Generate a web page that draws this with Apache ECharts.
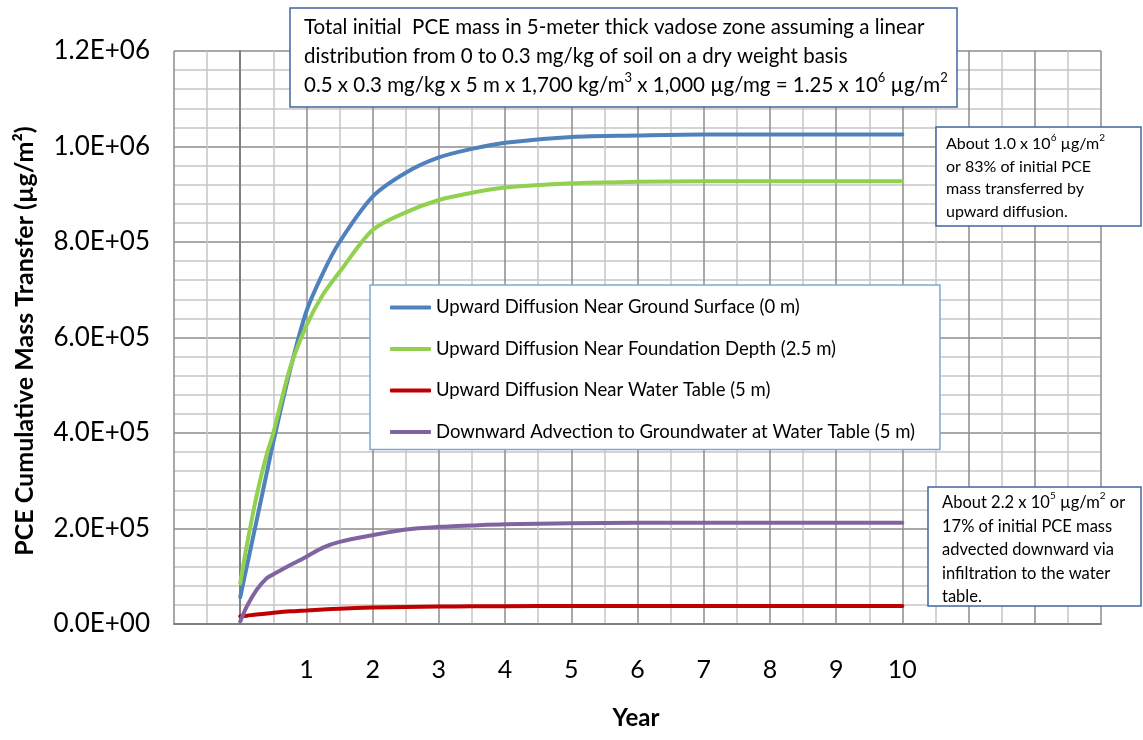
<!DOCTYPE html>
<html>
<head>
<meta charset="utf-8">
<script src="https://cdn.jsdelivr.net/npm/echarts@6/dist/echarts.min.js"></script>
<style>
html,body{margin:0;padding:0;background:#fff;}
#main{width:1143px;height:740px;}
</style>
</head>
<body>
<div id="main"></div>
<script>
// 数据 (Year, µg/m2)
var years = [0, 0.1, 0.25, 0.4, 0.5, 0.75, 1, 1.25, 1.5, 2, 2.5, 3, 3.5, 4, 5, 6, 7, 8, 9, 10];
var groundSurface = [56000, 121000, 218000, 316000, 381000, 530000, 655000, 735000, 800000, 895000, 945000, 977000, 995000, 1008000, 1020000, 1023000, 1025000, 1025000, 1025000, 1025000];
var foundationDepth = [85000, 165000, 270000, 355000, 400000, 535000, 625000, 690000, 737000, 825000, 862000, 888000, 903000, 914000, 923000, 926000, 927000, 927000, 927000, 927000];
var waterTable = [16000, 17500, 20000, 22000, 23500, 26500, 28500, 30500, 32000, 34500, 35800, 36500, 37000, 37300, 37500, 37500, 37500, 37500, 37500, 37500];
var advection = [5000, 37000, 72000, 96000, 104000, 123000, 141000, 160000, 172000, 186000, 198000, 203500, 206500, 209000, 211000, 212000, 212000, 212000, 212000, 212000];

var seriesNames = [
	'Upward Diffusion Near Ground Surface (0 m)',
	'Upward Diffusion Near Foundation Depth (2.5 m)',
	'Upward Diffusion Near Water Table (5 m)',
	'Downward Advection to Groundwater at Water Table (5 m)'
];
var seriesColors = ['#4f81bd', '#92d050', '#c00000', '#8064a2'];
var yearLabels = [1, 2, 3, 4, 5, 6, 7, 8, 9, 10];

var FONT = 'Lato';

function pairs(vals) {
	var out = [];
	for (var i = 0; i < years.length; i++) {
		out.push([years[i], vals[i]]);
	}
	return out;
}

function makeSeries(i, vals) {
	return {
		name: seriesNames[i],
		type: 'line',
		smooth: 0.3,
		symbol: 'none',
		data: pairs(vals),
		lineStyle: { color: seriesColors[i], width: 4, cap: 'round' },
		itemStyle: { color: seriesColors[i] },
		z: 3
	};
}

// 文本框 (矩形 + 文字), {s|..} 为上标
function textBox(x, y, w, h, tx, ty, text, size, lh) {
	return {
		type: 'group', x: x, y: y,
		children: [
			{ type: 'rect', z: 100, shape: { x: 0, y: 0, width: w, height: h },
			  style: { fill: '#fff', stroke: '#41669e', lineWidth: 1.5 } },
			{ type: 'text', z: 101, x: tx, y: ty,
			  style: {
				text: text, font: size + 'px ' + FONT, fill: '#000', lineHeight: lh,
				rich: {
					s: { fontFamily: FONT, fontSize: Math.round(size * 0.62), fill: '#000', verticalAlign: 'top', lineHeight: Math.round(lh * 0.55) }
				}
			  } }
		]
	};
}

var chart = echarts.init(document.getElementById('main'));
chart.setOption({
	backgroundColor: '#fff',
	animation: false,
	grid: { left: 174, top: 51, right: 42, bottom: 116 },
	xAxis: {
		type: 'value',
		min: -1,
		max: 13,
		interval: 1,
		axisLine: { show: true, lineStyle: { color: '#808080', width: 2 } },
		axisTick: { show: false },
		axisLabel: {
			margin: 33,
			fontFamily: FONT,
			fontSize: 25,
			color: '#000',
			formatter: function (v) {
				return yearLabels.indexOf(v) >= 0 ? String(v) : '';
			}
		},
		splitLine: { show: true, lineStyle: { color: '#8c8c8c', width: 1.5 } },
		minorTick: { show: false, splitNumber: 2 },
		minorSplitLine: { show: true, lineStyle: { color: '#c6c6c6', width: 1.5 } }
	},
	yAxis: {
		type: 'value',
		min: 0,
		max: 1200000,
		interval: 200000,
		axisLine: { show: true, lineStyle: { color: '#808080', width: 2 } },
		axisTick: { show: false },
		axisLabel: {
			margin: 24,
			fontFamily: FONT,
			fontSize: 26,
			color: '#000',
			formatter: function (v) {
				return v.toExponential(1).replace('e', 'E').replace(/E([+-])(\d)$/, 'E$10$2');
			}
		},
		splitLine: { show: true, lineStyle: { color: '#8c8c8c', width: 1.5 } },
		minorTick: { show: false, splitNumber: 5 },
		minorSplitLine: { show: true, lineStyle: { color: '#c6c6c6', width: 1.5 } }
	},
	legend: {
		orient: 'vertical',
		left: 370,
		top: 285,
		padding: [13, 25, 8, 20],
		itemGap: 22.5,
		itemWidth: 41,
		itemHeight: 4,
		icon: 'roundRect',
		backgroundColor: '#fff',
		borderColor: '#7ea6d8',
		borderWidth: 1.5,
		borderRadius: 0,
		textStyle: { fontFamily: FONT, fontSize: 18.5, color: '#000' },
		data: seriesNames
	},
	graphic: [
		// 标题框
		textBox(290, 8, 667, 99, 14, 5,
			'Total initial  PCE mass in 5-meter thick vadose zone assuming a linear\n' +
			'distribution from 0 to 0.3 mg/kg of soil on a dry weight basis\n' +
			'0.5 x 0.3 mg/kg x 5 m x 1,700 kg/m{s|3} x 1,000 \u00b5g/mg = 1.25 x 10{s|6} \u00b5g/m{s|2}',
			20.5, 29),
		// 说明框
		textBox(936, 127, 205, 99, 10, 6,
			'About 1.0 x 10{s|6} \u00b5g/m{s|2}\nor 83% of initial PCE\nmass transferred by\nupward diffusion.',
			16, 22.5),
		textBox(928, 487, 213, 119, 14, 4,
			'About 2.2 x 10{s|5} \u00b5g/m{s|2} or\n17% of initial PCE mass\nadvected downward via\ninfiltration to the water\ntable.',
			16.5, 23.5),
		// 轴标题
		{
			type: 'text', x: 636, y: 718, z: 100,
			style: { text: 'Year', font: 'bold 24px ' + FONT, fill: '#000', align: 'center', verticalAlign: 'middle' }
		},
		{
			type: 'text', x: 25, y: 341, rotation: Math.PI / 2, z: 100,
			style: { text: 'PCE Cumulative Mass Transfer (\u00b5g/m\u00b2)', font: 'bold 25px ' + FONT, fill: '#000', align: 'center', verticalAlign: 'middle' }
		}
	],
	series: [
		makeSeries(0, groundSurface),
		makeSeries(1, foundationDepth),
		makeSeries(2, waterTable),
		makeSeries(3, advection)
	]
});
</script>
</body>
</html>
